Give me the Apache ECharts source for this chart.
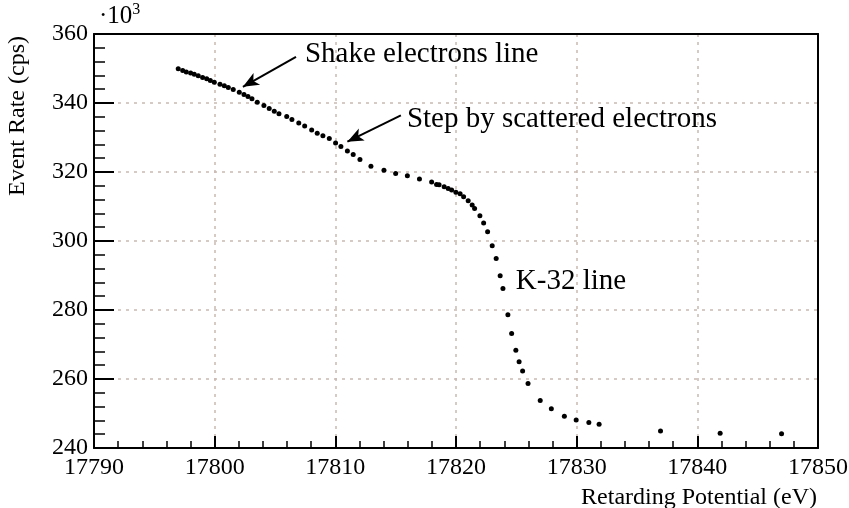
<!DOCTYPE html>
<html>
<head>
<meta charset="utf-8">
<script src="https://cdn.jsdelivr.net/npm/echarts@6/dist/echarts.min.js"></script>
<style>html,body{margin:0;padding:0;background:#fff}#c{width:849px;height:508px}</style>
</head>
<body>
<div id="c"></div>
<script>
// Retarding potential (eV)
const potential = [17796.98,17797.35,17797.65,17798.01,17798.31,17798.64,17799.0,17799.34,17799.64,17799.97,
17800.44,17800.8,17801.13,17801.54,17802.04,17802.43,17802.76,17803.09,17803.53,17804.08,
17804.52,17804.94,17805.33,17805.97,17806.4,17806.97,17807.46,17808.04,17808.5,17808.97,
17809.5,17810.02,17810.46,17811.0,17811.48,17812.04,17812.95,17814.03,17815.0,17815.97,
17816.97,17817.98,17818.39,17818.6,17819.02,17819.35,17819.64,17819.99,17820.34,17820.63,
17821.01,17821.34,17821.54,17821.98,17822.29,17822.62,17823.0,17823.33,17823.66,17823.89,
17824.3,17824.61,17824.96,17825.23,17825.52,17825.97,17826.98,17827.9,17828.98,17829.96,
17831.01,17831.86,17836.95,17841.89,17846.98];
// Event rate (x10^3 cps)
const rate = [349.9,349.4,349.0,348.7,348.3,347.9,347.4,347.0,346.5,346.0,
345.4,345.0,344.5,343.9,343.1,342.5,341.9,341.2,340.2,339.3,
338.4,337.6,336.9,336.1,335.2,334.2,333.3,332.2,331.2,330.5,
329.7,328.4,327.4,326.1,325.1,323.6,321.7,320.5,319.6,318.9,
318.0,317.1,316.4,316.3,315.7,315.2,314.8,314.1,313.7,312.8,
311.7,310.4,309.4,307.3,305.2,302.7,298.6,294.9,289.9,286.2,
278.6,273.2,268.3,265.0,262.3,258.7,253.8,251.4,249.2,248.1,
247.4,246.9,244.9,244.3,244.1];

// Annotations: text and anchor (data coordinates); arrows from -> to
const noteTexts = ["Shake electrons line", "Step by scattered electrons", "K-32 line"];
const noteX = [17807.48, 17815.93, 17824.96];
const noteY = [354.0, 335.2, 288.2];
const arrowFrom = [[17806.74, 353.4], [17815.43, 336.4]];
const arrowTo = [[17802.34, 344.7], [17811.0, 328.8]];

const FONT = 'Liberation Serif';
const gridColor = '#c9b9b3';

const chart = echarts.init(document.getElementById('c'), null, {renderer: 'canvas'});
const data = potential.map((x, i) => [x, rate[i]]);
const frameAxis = {
  axisLine: {show: true, onZero: false, lineStyle: {color: '#000', width: 2}},
  axisTick: {show: false}, axisLabel: {show: false}, splitLine: {show: false}
};

chart.setOption({
  animation: false,
  backgroundColor: '#ffffff',
  grid: {left: 94, right: 31, top: 34, bottom: 60, show: false, containLabel: false, outerBoundsMode: 'none'},
  xAxis: [{
    type: 'value', min: 17790, max: 17850, interval: 10,
    axisLine: {show: true, onZero: false, lineStyle: {color: '#000', width: 2}},
    axisTick: {show: true, inside: true, length: 12, lineStyle: {color: '#000', width: 2}},
    minorTick: {show: true, splitNumber: 5, length: 7, lineStyle: {color: '#000', width: 1.5}},
    axisLabel: {color: '#000', fontFamily: FONT, fontSize: 24, margin: 8, formatter: v => String(v)},
    splitLine: {show: true, lineStyle: {color: gridColor, width: 1.5, type: [3, 5]}},
    name: 'Retarding Potential (eV)', nameLocation: 'end',
    nameTextStyle: {fontFamily: FONT, fontSize: 24, color: '#000', align: 'right', verticalAlign: 'top', padding: [38, 0, 0, 0]},
    nameGap: -1
  }, Object.assign({type: 'value', position: 'top', min: 17790, max: 17850}, frameAxis)],
  yAxis: [{
    type: 'value', min: 240, max: 360, interval: 20,
    axisLine: {show: true, onZero: false, lineStyle: {color: '#000', width: 2}},
    axisTick: {show: true, inside: true, length: 20, lineStyle: {color: '#000', width: 2}},
    minorTick: {show: true, splitNumber: 5, length: 11, lineStyle: {color: '#000', width: 1.5}},
    axisLabel: {color: '#000', fontFamily: FONT, fontSize: 24, margin: 6},
    splitLine: {show: true, lineStyle: {color: gridColor, width: 1.5, type: [3, 5]}}
  }, Object.assign({type: 'value', position: 'right', min: 240, max: 360}, frameAxis)],
  series: [{
    type: 'scatter',
    data: data,
    symbol: 'circle',
    symbolSize: 5,
    itemStyle: {color: '#000', opacity: 1},
    silent: true,
    z: 5,
    markLine: {
      silent: true,
      symbol: ['none', 'arrow'],
      symbolSize: [10, 16],
      lineStyle: {color: '#000', width: 2, type: 'solid', opacity: 1},
      label: {show: false},
      data: arrowFrom.map((f, i) => [{coord: f}, {coord: arrowTo[i]}])
    }
  }]
});

const graphics = [];
noteTexts.forEach((t, i) => {
  const p = chart.convertToPixel({gridIndex: 0}, [noteX[i], noteY[i]]);
  graphics.push({type: 'text', x: p[0], y: p[1], style: {text: t, fontFamily: FONT, fontSize: 29, fill: '#000', align: 'left', verticalAlign: 'middle'}});
});
graphics.push({type: 'text', x: 18, y: 36, rotation: Math.PI / 2,
  style: {text: 'Event Rate (cps)', fontFamily: FONT, fontSize: 24, fill: '#000', align: 'right', verticalAlign: 'middle'}});
graphics.push({type: 'text', x: 99, y: 30,
  style: {text: '·10{s|3}', fontFamily: FONT, fontSize: 25, fill: '#000', align: 'left', verticalAlign: 'bottom',
    rich: {s: {fontFamily: FONT, fontSize: 16, fill: '#000', verticalAlign: 'top', padding: [0, 0, 12, 0]}}}});
chart.setOption({graphic: graphics});
</script>
</body>
</html>
